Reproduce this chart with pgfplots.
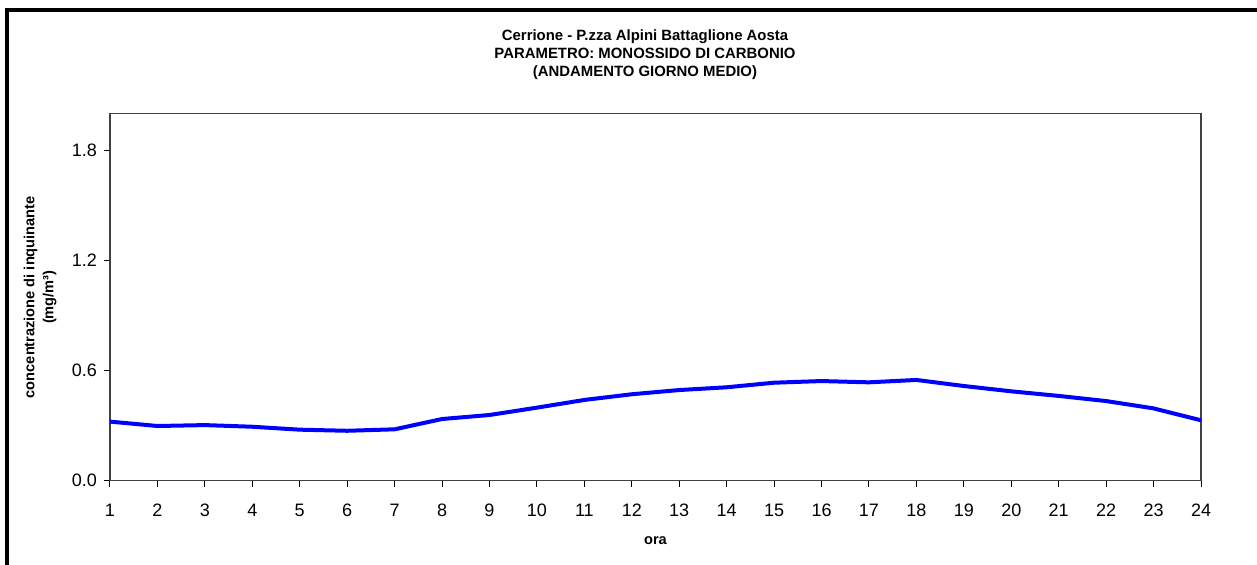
\documentclass[border=0pt]{standalone}
\usepackage{fontspec}
\setmainfont{Liberation Sans}
\usepackage{pgfplots}
\pgfplotsset{compat=1.18}

% giorno medio, monossido di carbonio (mg/m3)
\pgfplotstableread{
ora  co
1    0.322
2    0.298
3    0.303
4    0.294
5    0.278
6    0.272
7    0.280
8    0.336
9    0.358
10   0.398
11   0.440
12   0.471
13   0.494
14   0.509
15   0.534
16   0.543
17   0.536
18   0.549
19   0.516
20   0.487
21   0.462
22   0.434
23   0.394
24   0.329
}\datatable

\begin{document}
\begin{tikzpicture}
\useasboundingbox (0,0) rectangle (628.5pt,282.5pt);
% cornice esterna
\draw[line width=1.8pt] (3.5pt,-2pt) -- (3.5pt,277.5pt) -- (632pt,277.5pt);
\node[align=center, font=\bfseries\fontsize{7.45}{9}\selectfont] at (322.5pt,255pt)
  {Cerrione - P.zza Alpini Battaglione Aosta\\PARAMETRO: MONOSSIDO DI CARBONIO\\(ANDAMENTO GIORNO MEDIO)};
\begin{axis}[
    at={(55pt,42.15pt)}, anchor=south west,
    scale only axis,
    width=545.5pt, height=183.5pt,
    xmin=1, xmax=24,
    ymin=0, ymax=2.0,
    xtick={1,...,24},
    ytick={0,0.6,1.2,1.8},
    yticklabel style={/pgf/number format/fixed, /pgf/number format/fixed zerofill,
        /pgf/number format/precision=1},
    /pgf/number format/assume math mode=true,
    tick align=outside,
    major tick length=3pt,
    xtick pos=bottom, ytick pos=left,
    tick style={black, line width=0.5pt},
    axis line style={black!75, line width=0.6pt},
    ticklabel style={font=\fontsize{9}{10}\selectfont},
    xticklabel style={yshift=-5pt},
    xlabel={ora},
    xlabel style={font=\bfseries\fontsize{7.3}{8}\selectfont, at={(axis description cs:0.5,-0.164)}, anchor=center},
    ylabel={concentrazione di inquinante\\(mg/m³)},
    ylabel style={align=center, font=\bfseries\fontsize{7.3}{9.5}\selectfont, at={(axis description cs:-0.064,0.5)}, anchor=center},
]
\addplot[color={rgb,255:red,0;green,0;blue,255}, line width=2pt, mark=none] table[x=ora, y=co] {\datatable};
\end{axis}
\end{tikzpicture}
\end{document}
